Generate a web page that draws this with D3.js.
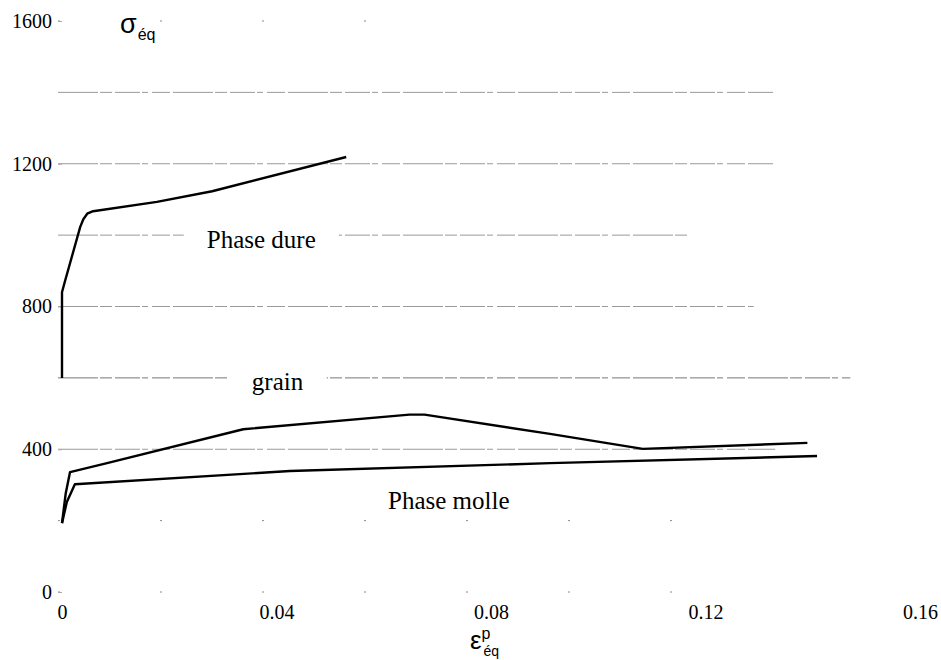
<!DOCTYPE html>
<html>
<head>
<meta charset="utf-8">
<script src="https://cdn.jsdelivr.net/npm/d3@7/dist/d3.min.js"></script>
<style>
  html, body { margin: 0; padding: 0; background: #fff; }
  svg { display: block; }
  .serif { font-family: "Liberation Serif", "Times New Roman", serif; }
  .sans { font-family: "Liberation Sans", Arial, sans-serif; }
</style>
</head>
<body>
<svg id="chart" width="941" height="660"></svg>
<script>
// ---- data ----
const xTicks = [0, 0.04, 0.08, 0.12, 0.16];
const xTickLabels = ["0", "0.04", "0.08", "0.12", "0.16"];
const yTicks = [0, 400, 800, 1200, 1600];
const yTickLabels = ["0", "400", "800", "1200", "1600"];

// grid lines (stress level, how far they run in strain)
const gridLevels = [1400, 1200, 1000, 800, 600, 400];
const gridEnds   = [0.1326, 0.1326, 0.117, 0.129, 0.147, 0.133];
const faintLevels = [1600, 200, 0];
const faintEnds   = [0.07, 0.115, 0.115];

// Phase dure
const dureStrain = [0, 0, 0.0005, 0.0034, 0.0040, 0.0047, 0.0058, 0.0177, 0.028, 0.053];
const dureStress = [600, 840, 868, 1023, 1045, 1060, 1067, 1093, 1123, 1219];
// grain
const grainStrain = [0, 0.0007, 0.0015, 0.0084, 0.0338, 0.0648, 0.0676, 0.091, 0.1083, 0.139];
const grainStress = [193, 277, 336, 361, 456, 497, 497, 443, 401, 418];
// Phase molle
const molleStrain = [0, 0.0009, 0.0024, 0.0425, 0.091, 0.1408];
const molleStress = [193, 252, 302, 339, 361, 381];

// curve labels
const labelTexts  = ["Phase dure", "grain", "Phase molle"];
const labelStrain = [0.0270, 0.0354, 0.0608];
const labelStress = [964, 566, 233];
</script>
<script>
const svg = d3.select("#chart");
const x = d3.scaleLinear().domain([0, 0.16]).range([62, 920]);
const y = d3.scaleLinear().domain([0, 1600]).range([592, 21]);

// faint dotted grid lines
svg.append("g").selectAll("line").data(faintLevels).join("line")
  .attr("x1", x(0) - 4).attr("x2", (d, i) => x(faintEnds[i]))
  .attr("y1", d => y(d)).attr("y2", d => y(d))
  .attr("stroke", "#8a8a8a").attr("stroke-width", 1)
  .attr("stroke-dasharray", "2,100");

// dashed grid lines
svg.append("g").selectAll("line").data(gridLevels).join("line")
  .attr("x1", x(0) - 4).attr("x2", (d, i) => x(gridEnds[i]))
  .attr("y1", d => y(d)).attr("y2", d => y(d))
  .attr("stroke", d => d === 600 ? "#777" : "#9a9a9a")
  .attr("stroke-width", 1)
  .attr("stroke-dasharray", "40,2,12,3,25,2,6,4,18,3");

// axes (labels only)
const yAxis = d3.axisLeft(y).tickValues(yTicks)
  .tickFormat((d, i) => yTickLabels[i]).tickSize(4).tickPadding(6);
const gy = svg.append("g").attr("transform", `translate(${x(0)},0)`).call(yAxis)
  .attr("font-family", null).attr("font-size", null);
gy.select(".domain").remove();
gy.selectAll(".tick line").attr("stroke", "#aaa");
gy.selectAll("text").attr("class", "serif").style("font-size", "20px").attr("fill", "#000");

const xAxis = d3.axisBottom(x).tickValues(xTicks)
  .tickFormat((d, i) => xTickLabels[i]).tickSize(0).tickPadding(13);
const gx = svg.append("g").attr("transform", `translate(0,${y(0)})`).call(xAxis)
  .attr("font-family", null).attr("font-size", null);
gx.select(".domain").remove();
gx.selectAll("text").attr("class", "serif").style("font-size", "20px").attr("fill", "#000");

// curve labels, with white gap in the grid line under them
const lab = svg.append("g").selectAll("g").data(labelTexts).join("g");
lab.append("text")
  .attr("class", "serif")
  .attr("x", (d, i) => x(labelStrain[i])).attr("y", (d, i) => y(labelStress[i]))
  .style("font-size", "25px").attr("fill", "#000")
  .text(d => d);
lab.each(function(d, i) {
  const g = d3.select(this);
  const bb = g.select("text").node().getBBox();
  if (i < 2) {
    g.insert("rect", "text")
      .attr("x", bb.x - 23).attr("y", bb.y + bb.height / 2 - 14)
      .attr("width", bb.width + 46).attr("height", 28).attr("fill", "#fff");
  }
});

// curves
const line = d3.line().x(d => x(d[0])).y(d => y(d[1]));
const series = [
  d3.zip(dureStrain, dureStress),
  d3.zip(grainStrain, grainStress),
  d3.zip(molleStrain, molleStress)
];
svg.append("g").selectAll("path").data(series).join("path")
  .attr("d", line)
  .attr("fill", "none").attr("stroke", "#000")
  .attr("stroke-width", 2.4)
  .attr("stroke-linejoin", "round");

// axis titles
const sig = svg.append("text").attr("class", "sans").attr("x", 120).attr("y", 33).attr("fill", "#000");
sig.append("tspan").style("font-size", "27px").text("σ");
sig.append("tspan").style("font-size", "16px").attr("dy", 7).attr("dx", 1).text("éq");

const eps = svg.append("text").attr("class", "sans").attr("x", 470).attr("y", 649).attr("fill", "#000");
eps.append("tspan").style("font-size", "26px").text("ε");
eps.append("tspan").style("font-size", "16px").attr("dy", -10).text("p");
eps.append("tspan").style("font-size", "14px").attr("dy", 17).attr("dx", -7).text("éq");
</script>
</body>
</html>
